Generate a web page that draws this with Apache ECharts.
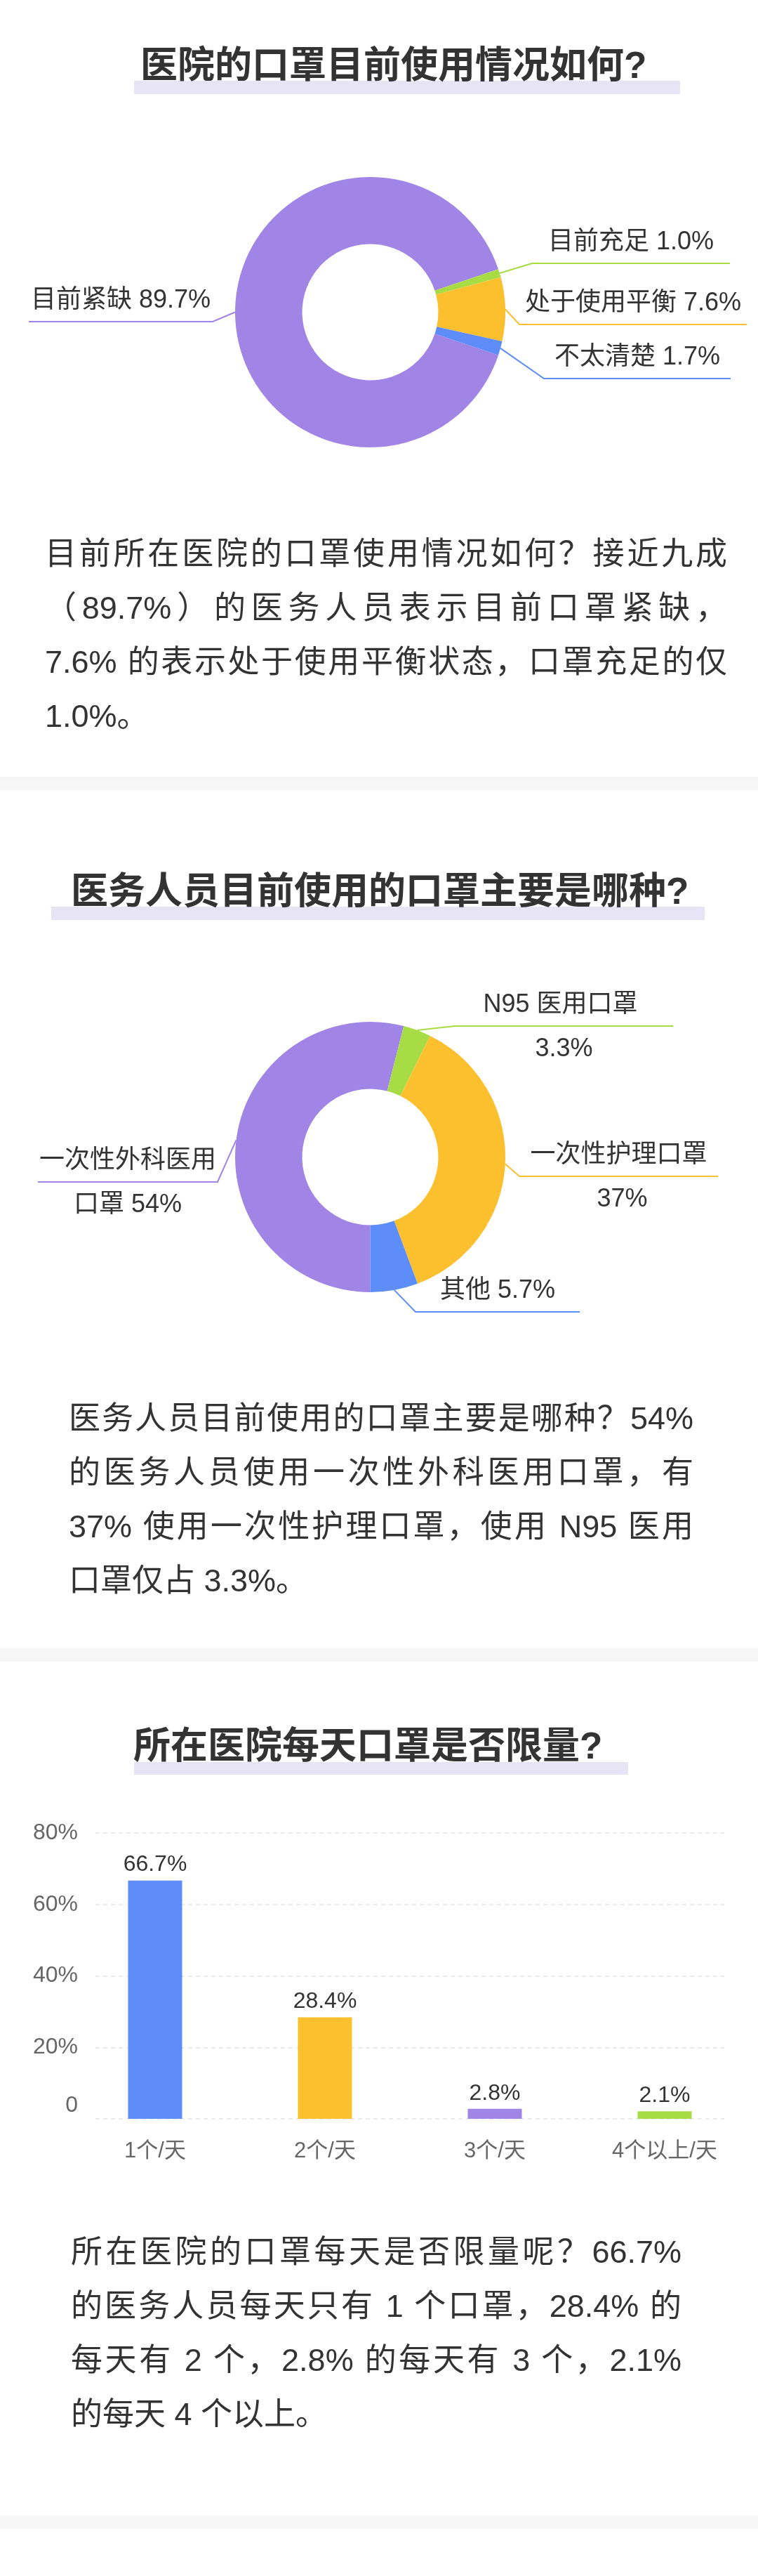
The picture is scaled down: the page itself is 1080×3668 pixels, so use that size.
<!DOCTYPE html>
<html>
<head>
<meta charset="utf-8">
<script src="https://cdn.jsdelivr.net/npm/echarts@6/dist/echarts.min.js"></script>
<style>
html, body { margin: 0; padding: 0; background: #ffffff; }
#page { position: relative; width: 1080px; height: 3668px; overflow: hidden; background: #ffffff; }
#chart { position: absolute; left: 0; top: 0; width: 1080px; height: 3668px; }
.para { position: absolute; font-family: 'Liberation Sans', 'Noto Sans CJK SC', sans-serif; font-size: 45px; line-height: 77px; color: #333333; }
.para .j { text-align: justify; text-align-last: justify; }
</style>
</head>
<body>
<div id="page"><div id="chart"></div></div>
<script>
const FONT = "'Liberation Sans', 'Noto Sans CJK SC', sans-serif";

// ---------- data ----------
const titles = ['医院的口罩目前使用情况如何?', '医务人员目前使用的口罩主要是哪种?', '所在医院每天口罩是否限量?'];

const pie1Names = ['目前紧缺', '目前充足', '处于使用平衡', '不太清楚'];
const pie1Values = [89.7, 1.0, 7.6, 1.7];
const pie1Colors = ['#a084e6', '#a7dc45', '#fcbf2e', '#5d8df9'];

const pie2Names = ['一次性外科医用口罩', 'N95 医用口罩', '一次性护理口罩', '其他'];
const pie2Values = [54, 3.3, 37, 5.7];
const pie2Colors = ['#a084e6', '#a7dc45', '#fcbf2e', '#5d8df9'];

const barCategories = ['1个/天', '2个/天', '3个/天', '4个以上/天'];
const barValues = [66.7, 28.4, 2.8, 2.1];
const barColors = ['#5d8df9', '#fcbf2e', '#a084e6', '#a7dc45'];
const yAxisMax = 80;
const yAxisStep = 20;

const paragraphs = [
  ['目前所在医院的口罩使用情况如何？接近九成', '（89.7%）的医务人员表示目前口罩紧缺，', '7.6% 的表示处于使用平衡状态，口罩充足的仅', '1.0%。'],
  ['医务人员目前使用的口罩主要是哪种？54%', '的医务人员使用一次性外科医用口罩，有', '37% 使用一次性护理口罩，使用 N95 医用', '口罩仅占 3.3%。'],
  ['所在医院的口罩每天是否限量呢？66.7%', '的医务人员每天只有 1 个口罩，28.4% 的', '每天有 2 个，2.8% 的每天有 3 个，2.1%', '的每天 4 个以上。']
];

// ---------- layout (positions only) ----------
const titleLayout = [
  { x: 200, cy: 96, barX: 191, barY: 115, barW: 778, barH: 19 },
  { x: 101, cy: 1272, barX: 73, barY: 1291, barW: 931, barH: 19 },
  { x: 190, cy: 2489, barX: 191, barY: 2509, barW: 704, barH: 18 }
];
const separatorTops = [1106, 2347, 3582];
const paraLayout = [
  { left: 64, width: 972, top: 750 },
  { left: 98, width: 890, top: 1981 },
  { left: 101, width: 870, top: 3168 }
];
const pie1Guide = [
  { ex: 303, ey: 458, end: 41 },
  { ex: 758, ey: 375, end: 1040 },
  { ex: 740, ey: 462, end: 1064 },
  { ex: 775, ey: 539, end: 1041 }
];
const pie2Guide = [
  { ex: 310, ey: 1683, end: 54 },
  { ex: 648, ey: 1461, end: 959 },
  { ex: 740, ey: 1675, end: 1023 },
  { ex: 592, ey: 1868, end: 826 }
];

// ---------- paragraphs (real HTML text) ----------
const page = document.getElementById('page');
paragraphs.forEach(function (lines, k) {
  const d = document.createElement('div');
  d.className = 'para';
  d.style.left = paraLayout[k].left + 'px';
  d.style.top = paraLayout[k].top + 'px';
  d.style.width = paraLayout[k].width + 'px';
  lines.forEach(function (ln, j) {
    const e = document.createElement('div');
    if (j < lines.length - 1) e.className = 'j';
    e.textContent = ln;
    d.appendChild(e);
  });
  page.appendChild(d);
});

// ---------- chart ----------
function guideLayout(guides, lh) {
  return function (p) {
    const g = guides[p.dataIndex];
    const pts = p.labelLinePoints;
    const anchor = (pts && pts[0]) ? pts[0] : [g.ex, g.ey];
    const multi = p.labelRect.height > lh * 1.5;
    return {
      x: (g.ex + g.end) / 2,
      y: g.ey + (multi ? 2 : -30),
      align: 'center',
      verticalAlign: 'middle',
      labelLinePoints: [anchor, [g.ex, g.ey], [g.end, g.ey]]
    };
  };
}

const chart = echarts.init(document.getElementById('chart'), null, { renderer: 'canvas', width: 1080, height: 3668 });

const option = {
  animation: false,
  backgroundColor: 'transparent',
  title: titles.map(function (t, i) {
    return {
      text: t,
      left: titleLayout[i].x,
      top: titleLayout[i].cy - 30,
      padding: 0,
      z: 10,
      textStyle: { fontSize: 53, fontWeight: 'bold', color: '#333333', lineHeight: 60, fontFamily: FONT }
    };
  }),
  graphic: [].concat(
    titleLayout.map(function (t) {
      return { type: 'rect', silent: true, z: 0, shape: { x: t.barX, y: t.barY, width: t.barW, height: t.barH }, style: { fill: '#e7e4f5' } };
    }),
    separatorTops.map(function (y) {
      return { type: 'rect', silent: true, z: 0, shape: { x: 0, y: y, width: 1080, height: 19 }, style: { fill: '#f6f6f6' } };
    })
  ),
  grid: [
    { left: 136, right: 48, top: 2610, height: 407, outerBoundsMode: 'none' },
    { left: 100, right: 12, top: 2610, height: 407, outerBoundsMode: 'none' }
  ],
  xAxis: [
    { gridIndex: 0, type: 'category', data: barCategories, show: false },
    {
      gridIndex: 1, type: 'category', data: barCategories,
      axisLine: { show: false }, axisTick: { show: false },
      axisLabel: { color: '#666666', fontSize: 31, margin: 31, fontFamily: FONT, interval: 0 }
    }
  ],
  yAxis: [
    {
      gridIndex: 0, type: 'value', min: 0, max: yAxisMax, interval: yAxisStep,
      axisLine: { show: false }, axisTick: { show: false },
      splitLine: { show: true, lineStyle: { type: [6, 5], color: '#e3e3e3', width: 1.5 } },
      axisLabel: {
        margin: 25, fontSize: 32, color: '#666666', fontFamily: FONT,
        formatter: function (v) { return v === 0 ? '{z|0}' : v + '%'; },
        rich: { z: { fontSize: 32, color: '#666666', fontFamily: FONT, padding: [0, 0, 38, 0] } }
      }
    },
    { gridIndex: 1, type: 'value', min: 0, max: yAxisMax, interval: yAxisStep, show: false }
  ],
  series: [
    {
      type: 'pie', silent: true, center: [527.5, 444.5], radius: [97, 192.5],
      startAngle: 180 + pie1Values[0] * 3.6 / 2, clockwise: true, avoidLabelOverlap: false,
      data: pie1Names.map(function (n, i) { return { name: n, value: pie1Values[i], itemStyle: { color: pie1Colors[i] } }; }),
      label: {
        show: true, position: 'outside', fontSize: 36, lineHeight: 44, color: '#333333', fontFamily: FONT,
        formatter: function (p) { return p.name + ' ' + p.value.toFixed(1) + '%'; }
      },
      labelLine: { show: true, length: 20, length2: 20, lineStyle: { width: 2 } },
      labelLayout: guideLayout(pie1Guide, 44)
    },
    {
      type: 'pie', silent: true, center: [527.5, 1647.5], radius: [97, 192.5],
      startAngle: 270, clockwise: true, avoidLabelOverlap: false,
      data: pie2Names.map(function (n, i) { return { name: n, value: pie2Values[i], itemStyle: { color: pie2Colors[i] } }; }),
      label: {
        show: true, position: 'outside', fontSize: 36, lineHeight: 63, color: '#333333', fontFamily: FONT,
        width: 262, overflow: 'break',
        formatter: function (p) { return p.name + ' ' + p.value + '%'; }
      },
      labelLine: { show: true, length: 20, length2: 20, lineStyle: { width: 2 } },
      labelLayout: guideLayout(pie2Guide, 63)
    },
    {
      type: 'bar', silent: true, xAxisIndex: 1, yAxisIndex: 1, barWidth: 77,
      data: barValues.map(function (v, i) { return { value: v, itemStyle: { color: barColors[i] } }; }),
      label: {
        show: true, position: 'top', distance: 6, fontSize: 32, color: '#333333', fontFamily: FONT,
        formatter: function (p) { return p.value.toFixed(1) + '%'; }
      }
    }
  ]
};
chart.setOption(option);
</script>
</body>
</html>
